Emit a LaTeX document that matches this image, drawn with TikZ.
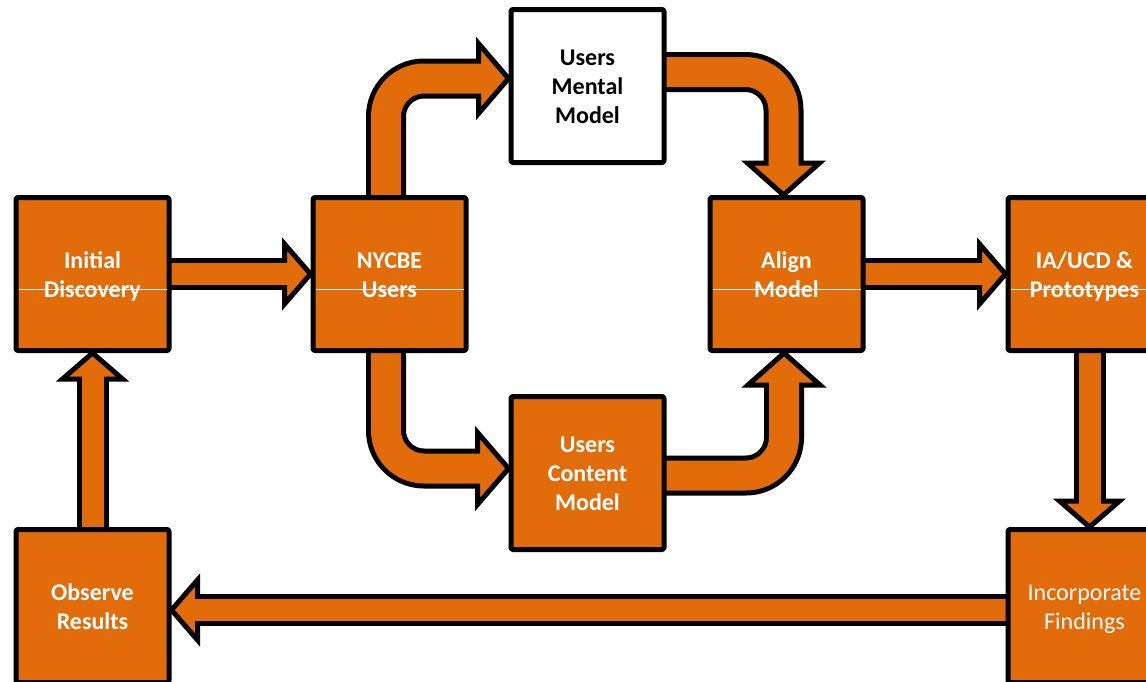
\documentclass[tikz,border=0pt]{standalone}
\usepackage{fontspec}
\setmainfont{Carlito}
\usetikzlibrary{calc,backgrounds}
\definecolor{boxorange}{HTML}{E36C0A}
\begin{document}
\begin{tikzpicture}[x=1pt,y=-1pt,
  stage/.style={draw=black, line width=5pt, fill=boxorange, rounded corners=2pt, line join=round,
    minimum width=153pt, minimum height=153pt, inner sep=0pt, align=center, text=white,
    text height=51pt, text depth=5pt, font=\fontsize{24}{29}\selectfont\bfseries},
  threelines/.style={text height=80pt},
  plainstage/.style={stage, font=\fontsize{24}{29}\selectfont},
  whitestage/.style={stage, fill=white, text=black},
  shaftk/.style={draw=black, line width=#1, line cap=butt, line join=round},
  shafto/.style={draw=boxorange, line width=#1, line cap=butt, line join=round},
  tiphead/.style={draw=black, fill=boxorange, line width=5pt, line join=miter}]

\useasboundingbox (0,0) rectangle (1146,681);
\clip (0,0) rectangle (1146,681);

% stages
\node[stage] (ini) at (92.5,274) {Initial\\Discovery};
\node[stage] (nyc) at (389.5,274) {NYCBE\\Users};
\node[whitestage, threelines] (men) at (587.5,86) {Users\\Mental\\Model};
\node[stage] (ali) at (786.5,274) {Align\\Model};
\node[stage] (ia) at (1084.5,274) {IA/UCD \&\\Prototypes};
\node[stage, threelines] (con) at (587.5,473) {Users\\Content\\Model};
\node[stage] (obs) at (92.5,606) {Observe\\Results};
\node[plainstage] (inc) at (1084.5,606) {Incorporate\\Findings};

% thin rule across the middle-row stages
\foreach \n in {ini,nyc,ali,ia}
  \draw[white, line width=0.9pt] ($(\n.west)+(5,15.5)$) -- ($(\n.east)+(-5,15.5)$);

\begin{scope}[on background layer]
% Initial -> NYCBE
\draw[shaftk=32pt] ($(ini.east)+(-3,0)$) -- ($(nyc.west)+(-26,0)$);
\draw[tiphead] ($(nyc.west)+(-26,-30)$) -- (nyc.west) -- ($(nyc.west)+(-26,30)$) -- cycle;
\draw[shafto=22pt] ($(ini.east)+(-3,0)$) -- ($(nyc.west)+(-22,0)$);

% Align -> IA/UCD
\draw[shaftk=32pt] ($(ali.east)+(-3,0)$) -- ($(ia.west)+(-26,0)$);
\draw[tiphead] ($(ia.west)+(-26,-30)$) -- (ia.west) -- ($(ia.west)+(-26,30)$) -- cycle;
\draw[shafto=22pt] ($(ali.east)+(-3,0)$) -- ($(ia.west)+(-22,0)$);

% IA/UCD -> Incorporate
\draw[shaftk=32pt] ($(ia.south)+(5,-3)$) -- ($(inc.north)+(5,-26)$);
\draw[tiphead] ($(inc.north)+(-25,-26)$) -- ($(inc.north)+(5,0)$) -- ($(inc.north)+(35,-26)$) -- cycle;
\draw[shafto=22pt] ($(ia.south)+(5,-3)$) -- ($(inc.north)+(5,-22)$);

% Incorporate -> Observe
\draw[shaftk=32pt] ($(inc.west)+(3,4)$) -- ($(obs.east)+(26,4)$);
\draw[tiphead] ($(obs.east)+(26,-26)$) -- ($(obs.east)+(0,4)$) -- ($(obs.east)+(26,34)$) -- cycle;
\draw[shafto=22pt] ($(inc.west)+(3,4)$) -- ($(obs.east)+(22,4)$);

% Observe -> Initial
\draw[shaftk=32pt] ($(obs.north)+(0,3)$) -- ($(ini.south)+(0,26)$);
\draw[tiphead] ($(ini.south)+(-30,26)$) -- (ini.south) -- ($(ini.south)+(30,26)$) -- cycle;
\draw[shafto=22pt] ($(obs.north)+(0,3)$) -- ($(ini.south)+(0,22)$);

% NYCBE -> Users Mental Model
\draw[shaftk=40pt, rounded corners=38pt] ($(nyc.north)+(-3.5,3)$) |- ($(men.west)+(-30,-7.5)$);
\draw[tiphead] ($(men.west)+(-30,-42.5)$) -- ($(men.west)+(0,-7.5)$) -- ($(men.west)+(-30,27.5)$) -- cycle;
\draw[shafto=30pt, rounded corners=38pt] ($(nyc.north)+(-3.5,3)$) |- ($(men.west)+(-26,-7.5)$);

% Users Mental Model -> Align
\draw[shaftk=40pt, rounded corners=38pt] ($(men.east)+(-3,-14)$) -| ($(ali.north)+(-3,-32)$);
\draw[tiphead] ($(ali.north)+(-39,-32)$) -- ($(ali.north)+(-3,0)$) -- ($(ali.north)+(33,-32)$) -- cycle;
\draw[shafto=30pt, rounded corners=38pt] ($(men.east)+(-3,-14)$) -| ($(ali.north)+(-3,-28)$);

% NYCBE -> Users Content Model
\draw[shaftk=40pt, rounded corners=38pt] ($(nyc.south)+(-3.5,-3)$) |- ($(con.west)+(-31,-4.5)$);
\draw[tiphead] ($(con.west)+(-31,-40.5)$) -- ($(con.west)+(0,-4.5)$) -- ($(con.west)+(-31,31.5)$) -- cycle;
\draw[shafto=30pt, rounded corners=38pt] ($(nyc.south)+(-3.5,-3)$) |- ($(con.west)+(-27,-4.5)$);

% Users Content Model -> Align
\draw[shaftk=40pt, rounded corners=38pt] ($(con.east)+(-3,2.5)$) -| ($(ali.south)+(-2.5,32)$);
\draw[tiphead] ($(ali.south)+(-38.5,32)$) -- ($(ali.south)+(-2.5,0)$) -- ($(ali.south)+(33.5,32)$) -- cycle;
\draw[shafto=30pt, rounded corners=38pt] ($(con.east)+(-3,2.5)$) -| ($(ali.south)+(-2.5,28)$);
\end{scope}
\end{tikzpicture}
\end{document}
